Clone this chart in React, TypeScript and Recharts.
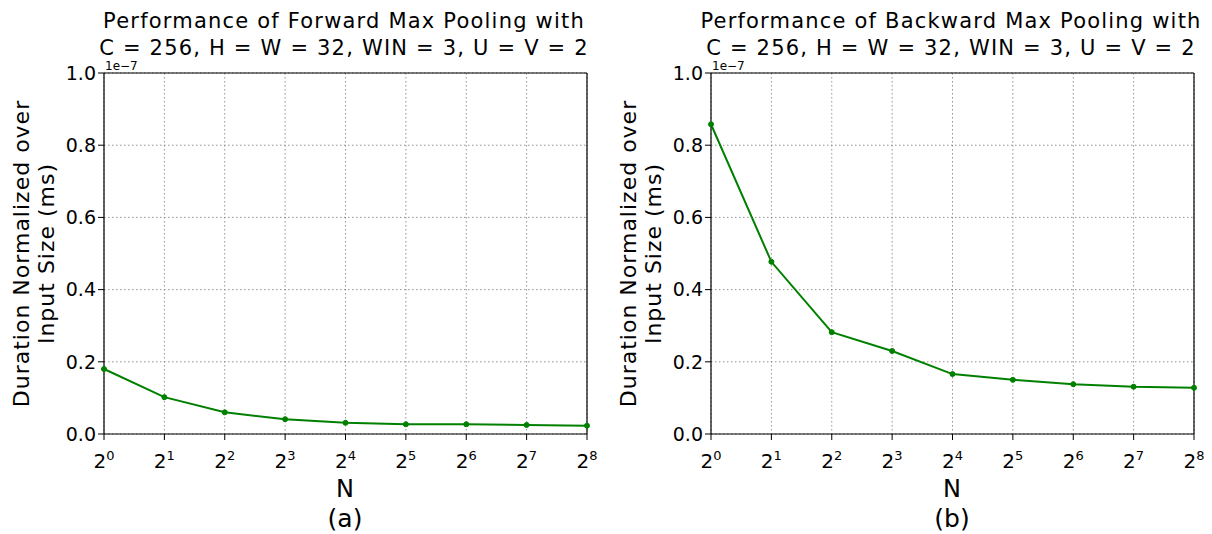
import React from "react";
import {
  LineChart,
  Line,
  XAxis,
  YAxis,
  CartesianGrid,
  ReferenceLine,
} from "recharts";

// exponents of N (2^e)
const EXPONENTS = [0, 1, 2, 3, 4, 5, 6, 7, 8];
// durations in units of 1e-7 ms
const FORWARD = [0.18, 0.102, 0.06, 0.041, 0.031, 0.027, 0.027, 0.025, 0.023];
const BACKWARD = [0.858, 0.477, 0.282, 0.23, 0.166, 0.15, 0.138, 0.131, 0.128];
const Y_TICKS = [0, 0.2, 0.4, 0.6, 0.8, 1.0];

const FONT = "DejaVu Sans, sans-serif";
const GREEN = "#008000";

function ExpTick(props: any) {
  const { x, y, payload } = props;
  return (
    <text x={x} y={y + 26} textAnchor="middle" fontFamily={FONT} fontSize={20} fill="#000">
      <tspan>2</tspan>
      <tspan dy={-8} fontSize={13}>{payload.value}</tspan>
    </text>
  );
}

function YLabel(props: any) {
  const { viewBox } = props;
  const cy = viewBox.y + viewBox.height / 2;
  return (
    <g fontFamily={FONT} fontSize={22} fill="#000" letterSpacing={1}>
      <text x={21} y={cy} textAnchor="middle" dominantBaseline="central" transform={`rotate(-90 21 ${cy})`}>
        Duration Normalized over
      </text>
      <text x={46} y={cy} textAnchor="middle" dominantBaseline="central" transform={`rotate(-90 46 ${cy})`}>
        Input Size (ms)
      </text>
    </g>
  );
}

function Panel({
  values,
  title,
  caption,
  left,
}: {
  values: number[];
  title: string;
  caption: string;
  left: number;
}) {
  const data = EXPONENTS.map((e, i) => ({ e, v: values[i] }));
  const cx = 344;
  return (
    <div style={{ position: "absolute", left, top: 0, width: 606, height: 534 }}>
      <LineChart
        width={606}
        height={534}
        data={data}
        margin={{ top: 73, right: 19, bottom: 40, left: 0 }}
      >
        <CartesianGrid stroke="#777" strokeDasharray="1.5 2.5" strokeWidth={0.8} />
        <XAxis
          dataKey="e"
          type="number"
          domain={[0, 8]}
          ticks={EXPONENTS}
          tick={<ExpTick />}
          height={60}
          tickSize={6}
          axisLine={{ stroke: "#000", strokeWidth: 1.2 }}
          tickLine={{ stroke: "#000" }}
        />
        <YAxis
          domain={[0, 1]}
          ticks={Y_TICKS}
          width={104}
          tickSize={6}
          tickMargin={2}
          tickFormatter={(v: number) => v.toFixed(1)}
          tick={{ fontFamily: FONT, fontSize: 19, fill: "#000" }}
          axisLine={{ stroke: "#000", strokeWidth: 1.2 }}
          tickLine={{ stroke: "#000" }}
          label={<YLabel />}
        />
        <ReferenceLine y={1} stroke="#000" strokeWidth={1.2} />
        <ReferenceLine x={8} stroke="#000" strokeWidth={1.2} />
        <Line
          dataKey="v"
          type="linear"
          stroke={GREEN}
          strokeWidth={2}
          dot={{ r: 2.5, fill: GREEN, stroke: GREEN, strokeWidth: 1 }}
          isAnimationActive={false}
        />
      </LineChart>
      <svg
        width={606}
        height={534}
        style={{ position: "absolute", left: 0, top: 0, pointerEvents: "none" }}
        fontFamily={FONT}
        fill="#000"
      >
        <g fontSize={21} textAnchor="middle" letterSpacing={1.2}>
          <text x={cx} y={28}>{title}</text>
          <text x={cx} y={55}>C = 256, H = W = 32, WIN = 3, U = V = 2</text>
        </g>
        <text x={105} y={70} fontSize={12}>1e−7</text>
        <text x={345} y={497} fontSize={24} textAnchor="middle">N</text>
        <text x={345} y={527} fontSize={25} textAnchor="middle">{caption}</text>
      </svg>
    </div>
  );
}

export default function App() {
  return (
    <div style={{ position: "absolute", left: 0, top: 0, width: 1212, height: 534, background: "#fff" }}>
      <Panel values={FORWARD} title="Performance of Forward Max Pooling with" caption="(a)" left={0} />
      <Panel values={BACKWARD} title="Performance of Backward Max Pooling with" caption="(b)" left={607} />
    </div>
  );
}
